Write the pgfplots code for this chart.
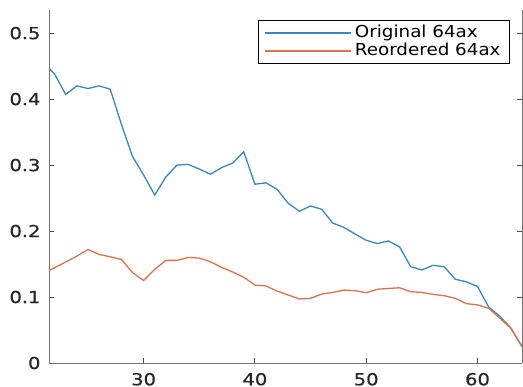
\documentclass[border=0pt]{standalone}
\usepackage{fontspec}
\setmainfont{DejaVu Sans}
\newfontfamily\tickfont[FakeStretch=1.18,FakeBold=0.6]{DejaVu Sans}
\newfontfamily\legfont[FakeStretch=1.11]{DejaVu Sans}
\usepackage{pgfplots}
\pgfplotsset{compat=1.18}
\definecolor{mblue}{RGB}{55,135,195}
\definecolor{morange}{RGB}{217,115,75}
\begin{document}
\begin{tikzpicture}
\begin{axis}[
  at={(0,0)}, anchor=south west,
  scale only axis, width=473pt, height=353pt,
  xmin=21.5, xmax=64, ymin=0, ymax=0.535,
  axis x line*=bottom, axis y line*=box,
  xtick={30,40,50,60},
  ytick={0,0.1,0.2,0.3,0.4,0.5},
  yticklabels={0,0.1,0.2,0.3,0.4,0.5},
  tick align=inside, major tick length=5pt,
  axis line style={-, black!55, line width=0.8pt},
  every tick/.style={black!70, line width=0.8pt},
  /pgf/number format/assume math mode=true,
  ticklabel style={font=\tickfont\fontsize{16.5}{18}\selectfont, text=black!85},
  yticklabel style={xshift=-5pt},
  xticklabel style={yshift=-6.5pt},
  legend cell align=left,
  legend style={at={(axis description cs:0.9746,0.9717)}, anchor=north east,
    draw=black, line width=0.8pt, font=\legfont\fontsize{16.5}{18}\selectfont,
    inner xsep=6pt, inner ysep=3.5pt, row sep=0pt,
    nodes={inner xsep=3pt, inner ysep=1pt, text height=12.5pt, text depth=3.5pt}},
  legend image code/.code={\draw[#1] (0pt,0pt) -- (86pt,0pt);},
]
\addplot[mblue, line width=1.3pt] coordinates {
(21,0.455) (22,0.438) (23,0.407) (24,0.420) (25,0.416) (26,0.420) (27,0.415)
(28,0.362) (29,0.313) (30,0.285) (31,0.2545) (32,0.282) (33,0.300) (34,0.301)
(35,0.294) (36,0.286) (37,0.296) (38,0.303) (39,0.320) (40,0.271) (41,0.273)
(42,0.263) (43,0.242) (44,0.230) (45,0.238) (46,0.233) (47,0.212) (48,0.2055)
(49,0.1955) (50,0.186) (51,0.181) (52,0.185) (53,0.176) (54,0.146) (55,0.141)
(56,0.148) (57,0.146) (58,0.127) (59,0.123) (60,0.116) (61,0.085) (62,0.071)
(63,0.053) (64,0.025)
};
\addlegendentry{Original 64ax}
\addplot[morange, line width=1.3pt] coordinates {
(21,0.136) (22,0.1445) (23,0.153) (24,0.162) (25,0.172) (26,0.1645) (27,0.161)
(28,0.157) (29,0.137) (30,0.125) (31,0.142) (32,0.1555) (33,0.1555) (34,0.160)
(35,0.159) (36,0.1535) (37,0.145) (38,0.138) (39,0.130) (40,0.118) (41,0.1167)
(42,0.109) (43,0.103) (44,0.097) (45,0.098) (46,0.1045) (47,0.107) (48,0.1105)
(49,0.1095) (50,0.1065) (51,0.1117) (52,0.113) (53,0.114) (54,0.108) (55,0.107)
(56,0.104) (57,0.102) (58,0.098) (59,0.090) (60,0.088) (61,0.083) (62,0.068)
(63,0.0526) (64,0.0247)
};
\addlegendentry{Reordered 64ax}
\end{axis}
\pgfresetboundingbox
\useasboundingbox (-49pt,-24pt) rectangle (474pt,363pt);
\end{tikzpicture}
\end{document}
